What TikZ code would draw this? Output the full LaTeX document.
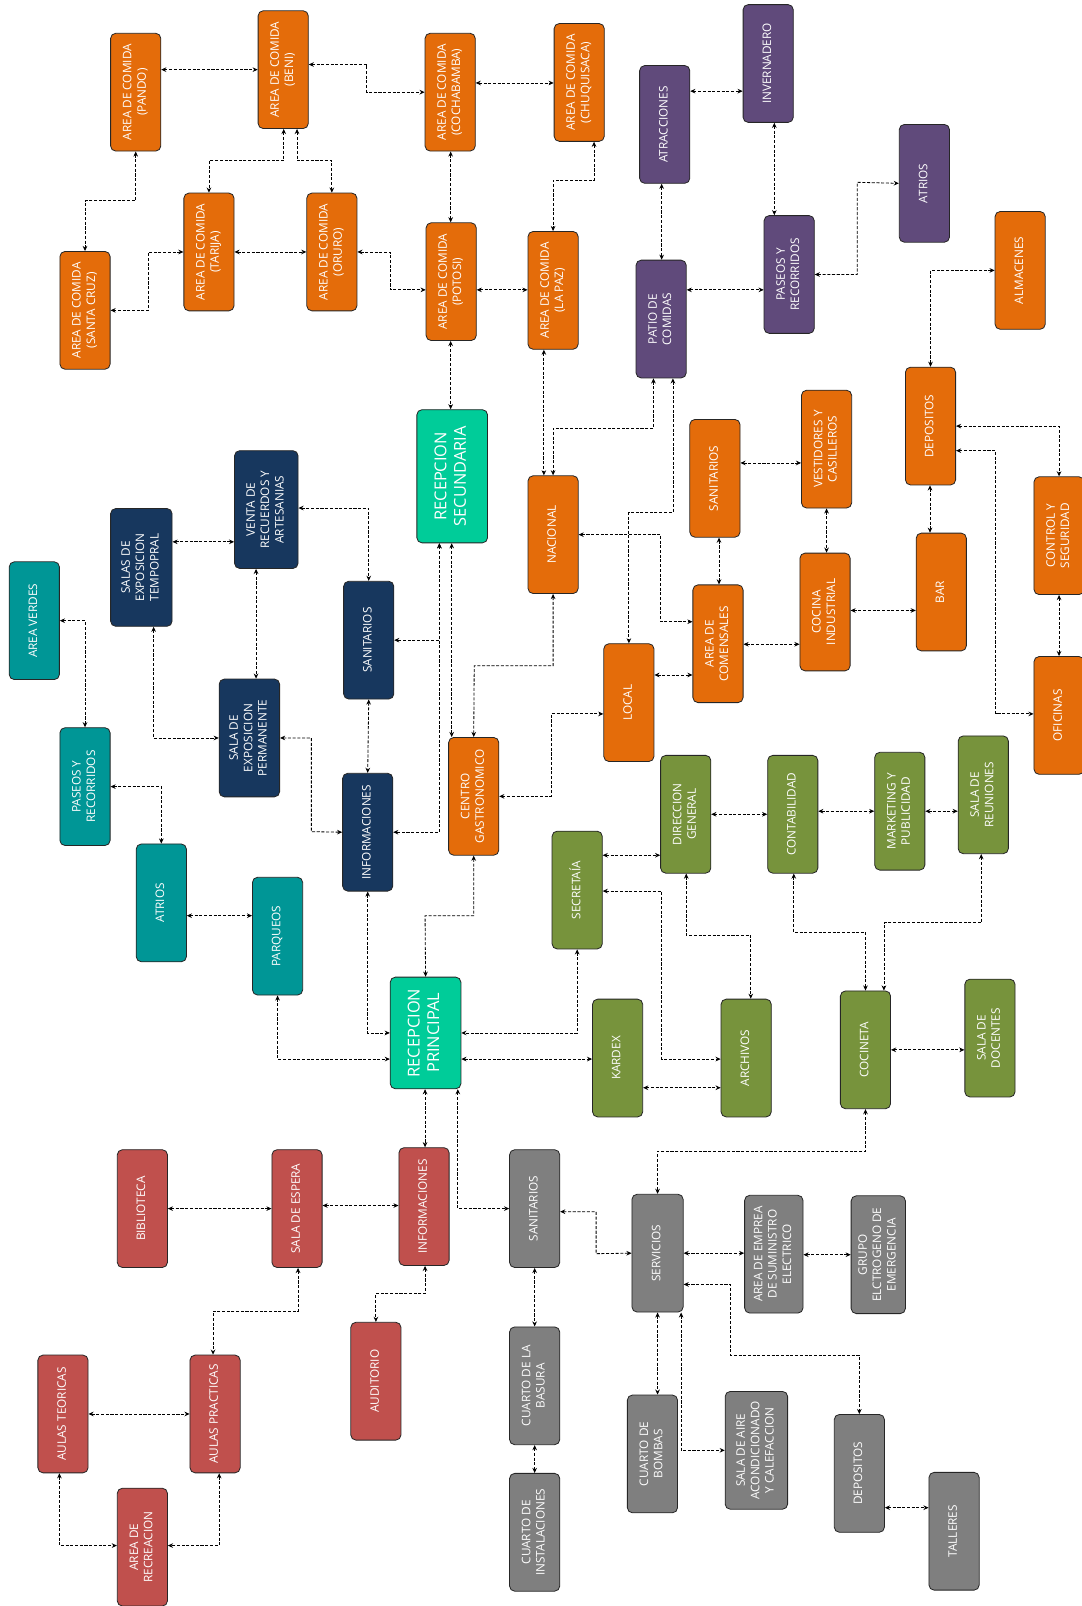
\documentclass[tikz,border=0pt]{standalone}
\usepackage{tikz}
\usepackage{graphicx}
\usepackage{fontspec}
\setmainfont{Open Sans}
\usetikzlibrary{arrows.meta}
\definecolor{naranja}{RGB}{228,108,10}
\definecolor{morado}{RGB}{96,74,123}
\definecolor{marino}{RGB}{23,55,94}
\definecolor{turquesa}{RGB}{0,150,150}
\definecolor{verdeagua}{RGB}{0,204,153}
\definecolor{oliva}{RGB}{119,147,60}
\definecolor{rojo}{RGB}{192,80,77}
\definecolor{gris}{RGB}{127,127,127}
\newcommand{\vlab}[1]{\rotatebox{90}{\begin{tabular}{@{}c@{}}#1\end{tabular}}}

\begin{document}
\begin{tikzpicture}[x=1pt,y=-1pt,
  sala/.style={rectangle,draw=black!85,line width=0.8pt,rounded corners=5pt,
    minimum width=49pt,minimum height=115pt,inner sep=0pt,
    text=white,font=\fontsize{11.5}{14}\selectfont},
  recep/.style={sala,fill=verdeagua,minimum width=69pt,
    font=\fontsize{16}{19}\selectfont},
  conex/.style={line width=0.8pt,dash pattern=on 3pt off 1.6pt,
    {Stealth[length=5pt,width=4.5pt]}-{Stealth[length=5pt,width=4.5pt]}}
]
  \useasboundingbox (0,0) rectangle (1056,1568);

  \node[sala,fill=naranja] (pando) at (132.5,90) {\vlab{AREA DE COMIDA\\(PANDO)}};
  \node[sala,fill=naranja] (beni) at (276.5,68) {\vlab{AREA DE COMIDA\\(BENI)}};
  \node[sala,fill=naranja] (cocha) at (439.5,90) {\vlab{AREA DE COMIDA\\(COCHABAMBA)}};
  \node[sala,fill=naranja] (chuqui) at (565.5,80.5) {\vlab{AREA DE COMIDA\\(CHUQUISACA)}};
  \node[sala,fill=naranja] (tarija) at (204,246) {\vlab{AREA DE COMIDA\\(TARIJA)}};
  \node[sala,fill=naranja] (oruro) at (324,246) {\vlab{AREA DE COMIDA\\(ORURO)}};
  \node[sala,fill=naranja] (scruz) at (83,303) {\vlab{AREA DE COMIDA\\(SANTA CRUZ)}};
  \node[sala,fill=naranja] (potosi) at (440.5,275) {\vlab{AREA DE COMIDA\\(POTOSI)}};
  \node[sala,fill=naranja] (lapaz) at (540,283.5) {\vlab{AREA DE COMIDA\\(LA PAZ)}};

  \node[sala,fill=morado] (atracc) at (649,121.5) {\vlab{ATRACCIONES}};
  \node[sala,fill=morado] (inverna) at (750,62) {\vlab{INVERNADERO}};
  \node[sala,fill=morado] (atriosM) at (902.5,179) {\vlab{ATRIOS}};
  \node[sala,fill=morado] (patio) at (645.5,311.5) {\vlab{PATIO DE\\COMIDAS}};
  \node[sala,fill=morado] (paseosM) at (770.5,268) {\vlab{PASEOS Y\\RECORRIDOS}};
  \node[sala,fill=naranja] (almacen) at (996,264) {\vlab{ALMACENES}};

  \node[recep,minimum height=130pt] (recsec) at (441.5,465) {\vlab{RECEPCION\\SECUNDARIA}};
  \node[sala,fill=marino,minimum width=62pt] (venta) at (260,497.5) {\vlab{VENTA DE\\RECUERDOS Y\\ARTESANIAS}};
  \node[sala,fill=marino,minimum width=60pt] (salastemp) at (138,554) {\vlab{SALAS DE\\EXPOSICION\\TEMPOPRAL}};
  \node[sala,fill=marino] (saniN) at (360,625) {\vlab{SANITARIOS}};
  \node[sala,fill=marino,minimum width=59pt] (salaperm) at (243.5,720.5) {\vlab{SALA DE\\EXPOSICION\\PERMANENTE}};
  \node[sala,fill=marino] (infoN) at (359,812.5) {\vlab{INFORMACIONES}};
  \node[sala,fill=turquesa] (verdes) at (33.5,606) {\vlab{AREA VERDES}};
  \node[sala,fill=turquesa] (paseosT) at (83,768) {\vlab{PASEOS Y\\RECORRIDOS}};
  \node[sala,fill=turquesa] (atriosT) at (157.5,881.5) {\vlab{ATRIOS}};
  \node[sala,fill=turquesa] (parqueos) at (271,914) {\vlab{PARQUEOS}};

  \node[sala,fill=naranja] (nacional) at (540,522) {\vlab{NACIONAL}};
  \node[sala,fill=naranja] (saniO) at (698,467) {\vlab{SANITARIOS}};
  \node[sala,fill=naranja] (vestid) at (807,438.5) {\vlab{VESTIDORES Y\\CASILLEROS}};
  \node[sala,fill=naranja] (depoO) at (908.5,416) {\vlab{DEPOSITOS}};
  \node[sala,fill=naranja] (control) at (1034,523) {\vlab{CONTROL Y\\SEGURIDAD}};
  \node[sala,fill=naranja] (comens) at (701,628.5) {\vlab{AREA DE\\COMENSALES}};
  \node[sala,fill=naranja] (cocina) at (805.5,597.5) {\vlab{COCINA\\INDUSTRIAL}};
  \node[sala,fill=naranja] (bar) at (919,578) {\vlab{BAR}};
  \node[sala,fill=naranja] (local) at (614,686) {\vlab{LOCAL}};
  \node[sala,fill=naranja] (oficinas) at (1034,698.5) {\vlab{OFICINAS}};
  \node[sala,fill=naranja] (centro) at (462.5,777.5) {\vlab{CENTRO\\GASTRONOMICO}};

  \node[sala,fill=oliva] (secret) at (563.5,869) {\vlab{SECRETAÍA}};
  \node[sala,fill=oliva] (direcc) at (669.5,795) {\vlab{DIRECCION\\GENERAL}};
  \node[sala,fill=oliva] (contab) at (774,795) {\vlab{CONTABILIDAD}};
  \node[sala,fill=oliva] (market) at (878.5,792) {\vlab{MARKETING Y\\PUBLICIDAD}};
  \node[sala,fill=oliva] (reunion) at (960,776) {\vlab{SALA DE\\REUNIONES}};
  \node[sala,fill=oliva] (kardex) at (603,1033) {\vlab{KARDEX}};
  \node[sala,fill=oliva] (archivos) at (728.5,1033) {\vlab{ARCHIVOS}};
  \node[sala,fill=oliva] (cocineta) at (845,1025) {\vlab{COCINETA}};
  \node[sala,fill=oliva] (docentes) at (966.5,1013.5) {\vlab{SALA DE\\DOCENTES}};

  \node[recep,minimum height=109pt] (recprin) at (415.5,1008.5) {\vlab{RECEPCION\\PRINCIPAL}};

  \node[sala,fill=rojo] (biblio) at (139,1180) {\vlab{BIBLIOTECA}};
  \node[sala,fill=rojo] (espera) at (290,1180) {\vlab{SALA DE ESPERA}};
  \node[sala,fill=rojo] (infoR) at (414,1178) {\vlab{INFORMACIONES}};
  \node[sala,fill=rojo] (auditorio) at (367,1348.5) {\vlab{AUDITORIO}};
  \node[sala,fill=rojo] (teoricas) at (61.5,1380.5) {\vlab{AULAS TEORICAS}};
  \node[sala,fill=rojo] (practicas) at (210,1380.5) {\vlab{AULAS PRACTICAS}};
  \node[sala,fill=rojo] (recreac) at (139,1510.5) {\vlab{AREA DE\\RECREACION}};

  \node[sala,fill=gris] (saniG) at (522,1180) {\vlab{SANITARIOS}};
  \node[sala,fill=gris,minimum width=50pt] (servicios) at (642,1223.5) {\vlab{SERVICIOS}};
  \node[sala,fill=gris,minimum width=57pt] (emprea) at (755.5,1224.5) {\vlab{AREA DE EMPREA\\DE SUMINISTRO\\ELECTRICO}};
  \node[sala,fill=gris,minimum width=53pt] (grupo) at (857.5,1225) {\vlab{GRUPO\\ELCTROGENO DE\\EMERGENCIA}};
  \node[sala,fill=gris] (basura) at (522,1353) {\vlab{CUARTO DE LA\\BASURA}};
  \node[sala,fill=gris] (instal) at (522,1496) {\vlab{CUARTO DE\\INSTALACIONES}};
  \node[sala,fill=gris] (bombas) at (637,1419.5) {\vlab{CUARTO DE\\BOMBAS}};
  \node[sala,fill=gris,minimum width=61pt] (aire) at (738.5,1416) {\vlab{SALA DE AIRE\\ACONDICIONADO\\Y CALEFACCION}};
  \node[sala,fill=gris] (depoG) at (839,1438.5) {\vlab{DEPOSITOS}};
  \node[sala,fill=gris] (talleres) at (931.5,1495) {\vlab{TALLERES}};

  \draw[conex] (pando.east |- 0,68) -- (beni.west |- 0,68);
  \draw[conex] (beni.east |- 0,63) -| (358,90) -- (cocha.west |- 0,90);
  \draw[conex] (cocha.east |- 0,81) -- (chuqui.west |- 0,81);
  \draw[conex] (beni.south -| 277,0) |- (204,157) -- (tarija.north);
  \draw[conex] (beni.south -| 290,0) |- (324,157) -- (oruro.north);
  \draw[conex] (pando.south) |- (83,196) -- (scruz.north);
  \draw[conex] (tarija.west) -| (145,303) -- (scruz.east);
  \draw[conex] (tarija.east) -- (oruro.west);
  \draw[conex] (oruro.east) -| (381,283) -- (potosi.west |- 0,283);
  \draw[conex] (potosi.east |- 0,283) -- (lapaz.west |- 0,283);
  \draw[conex] (cocha.south -| 440,0) -- (potosi.north -| 440,0);
  \draw[conex] (chuqui.south -| 580,0) |- (540,176) -- (lapaz.north);
  \draw[conex] (potosi.south -| 440,0) -- (recsec.north -| 440,0);
  \draw[conex] (lapaz.south -| 531,0) -- (nacional.north -| 531,0);

  \draw[conex] (atracc.east |- 0,89) -- (inverna.west |- 0,89);
  \draw[conex] (atracc.south -| 646,0) -- (patio.north -| 646,0);
  \draw[conex] (inverna.south -| 756,0) -- (paseosM.north -| 756,0);
  \draw[conex] (patio.east |- 0,283) -- (paseosM.west |- 0,283);
  \draw[conex] (paseosM.east) -| (837,178) -- (atriosM.west);
  \draw[conex] (almacen.west) -| (depoO.north);

  \draw[conex] (patio.south -| 638,0) |- (540,418) -- (nacional.north);
  \draw[conex] (patio.south -| 657,0) |- (614,500) -- (local.north);
  \draw[conex] (nacional.east) -| (645,607) -- (comens.west |- 0,607);
  \draw[conex] (saniO.east |- 0,452) -- (vestid.west |- 0,452);
  \draw[conex] (saniO.south -| 702,0) -- (comens.north -| 702,0);
  \draw[conex] (vestid.south -| 807,0) -- (cocina.north -| 807,0);
  \draw[conex] (comens.east |- 0,629) -- (cocina.west |- 0,629);
  \draw[conex] (cocina.east |- 0,596) -- (bar.west |- 0,596);
  \draw[conex] (depoO.south -| 908,0) -- (bar.north -| 908,0);
  \draw[conex] (local.east |- 0,659) -- (comens.west |- 0,659);
  \draw[conex] (depoO.east) -| (control.north);
  \draw[conex] (depoO.east |- 0,440) -| (972,697) -- (oficinas.west |- 0,697);
  \draw[conex] (control.south) -- (oficinas.north);
  \draw[conex] (nacional.south) |- (463,650) -- (centro.north);
  \draw[conex] (centro.east) -| (538,697) -- (local.west |- 0,697);
  \draw[conex] (recsec.south -| 441,0) -- (centro.north -| 441,0);

  \draw[conex] (recsec.south -| 429,0) |- (saniN.east);
  \draw[conex] (recsec.south -| 429,0) |- (infoN.east);
  \draw[conex] (salastemp.east |- 0,529) -- (venta.west |- 0,529);
  \draw[conex] (venta.east |- 0,496) -| (saniN.north);
  \draw[conex] (venta.south -| 250,0) -- (salaperm.north -| 250,0);
  \draw[conex] (salastemp.south -| 150,0) |- (salaperm.west);
  \draw[conex] (salaperm.east) -| (304,812) -- (infoN.west);
  \draw[conex] (saniN.south) -- (infoN.north);
  \draw[conex] (verdes.east) -| (paseosT.north);
  \draw[conex] (paseosT.east) -| (atriosT.north);
  \draw[conex] (atriosT.east |- 0,894) -- (parqueos.west |- 0,894);
  \draw[conex] (parqueos.south) |- (recprin.west |- 0,1034);
  \draw[conex] (infoN.south) |- (recprin.west);
  \draw[conex] (centro.south) |- (415,894) -- (recprin.north);
  \draw[conex] (secret.south) |- (recprin.east);
  \draw[conex] (recprin.east |- 0,1034) -- (kardex.west |- 0,1034);

  \draw[conex] (recprin.south -| 415,0) -- (infoR.north -| 415,0);
  \draw[conex] (recprin.south -| 447,0) |- (saniG.west);
  \draw[conex] (biblio.east) -- (espera.west);
  \draw[conex] (espera.east |- 0,1177) -- (infoR.west |- 0,1177);
  \draw[conex] (espera.south -| 291,0) |- (208,1280) -- (practicas.north -| 208,0);
  \draw[conex] (infoR.south -| 415,0) |- (367,1263) -- (auditorio.north);
  \draw[conex] (teoricas.east) -- (practicas.west);
  \draw[conex] (teoricas.south -| 58,0) |- (recreac.west |- 0,1509);
  \draw[conex] (practicas.south -| 214,0) |- (recreac.east |- 0,1509);
  \draw[conex] (saniG.south) -- (basura.north);
  \draw[conex] (basura.south) -- (instal.north);

  \draw[conex] (secret.east |- 0,835) -- (direcc.west |- 0,835);
  \draw[conex] (secret.east |- 0,870) -| (646,1034) -- (archivos.west |- 0,1034);
  \draw[conex] (direcc.south -| 670,0) |- (733,913) -- (archivos.north -| 733,0);
  \draw[conex] (kardex.east |- 0,1062) -- (archivos.west |- 0,1062);
  \draw[conex] (direcc.east |- 0,795) -- (contab.west |- 0,795);
  \draw[conex] (contab.east |- 0,792) -- (market.west |- 0,792);
  \draw[conex] (market.east |- 0,792) -- (reunion.west |- 0,792);
  \draw[conex] (contab.south -| 775,0) |- (845,910) -- (cocineta.north);
  \draw[conex] (reunion.south -| 958,0) |- (863,901) -- (cocineta.north -| 863,0);
  \draw[conex] (cocineta.east) -- (cocineta.east -| docentes.west);
  \draw[conex] (cocineta.south) |- (642,1124) -- (servicios.north);

  \draw[conex] (saniG.east |- 0,1183) -| (582,1224) -- (servicios.west);
  \draw[conex] (servicios.east) -- (servicios.east -| emprea.west);
  \draw[conex] (emprea.east |- 0,1225) -- (grupo.west |- 0,1225);
  \draw[conex] (servicios.south -| 642,0) -- (bombas.north -| 642,0);
  \draw[conex] (servicios.south -| 665,0) |- (aire.west);
  \draw[conex] (servicios.east |- 0,1254) -| (713,1323) -| (depoG.north);
  \draw[conex] (depoG.east |- 0,1472) -- (talleres.west |- 0,1472);
\end{tikzpicture}
\end{document}
